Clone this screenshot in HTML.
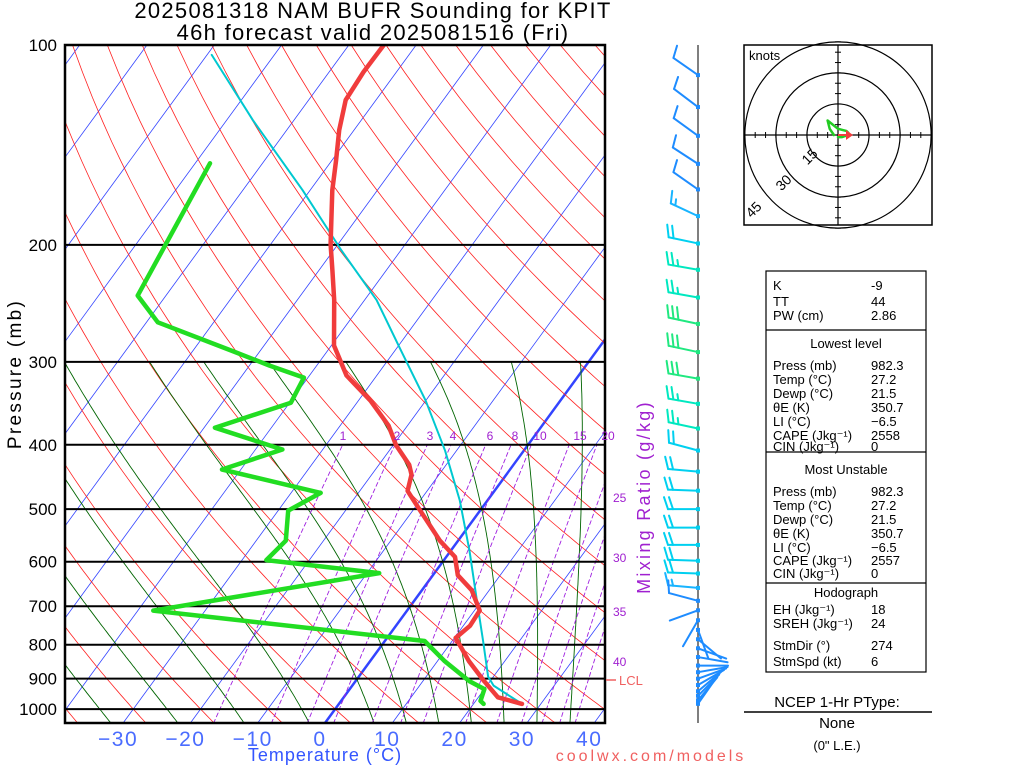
<!DOCTYPE html>
<html><head><meta charset="utf-8"><style>
html,body{margin:0;padding:0;background:#fff;}
svg{display:block;font-family:"Liberation Sans",sans-serif;}
</style></head><body>
<svg id="c" width="1024" height="768" viewBox="0 0 1024 768" xmlns="http://www.w3.org/2000/svg">
<defs><clipPath id="pc"><rect x="65" y="45" width="540" height="678"/></clipPath></defs>
<g id="bg" clip-path="url(#pc)"></g>
<g id="iso"></g>
<g id="prof" clip-path="url(#pc)"></g>
<rect x="65" y="45" width="540" height="678" fill="none" stroke="#000" stroke-width="2.5"/>
<text x="373" y="18" font-size="22" letter-spacing="1.3" text-anchor="middle">2025081318 NAM BUFR Sounding for KPIT</text>
<text x="373" y="40" font-size="22" letter-spacing="1.3" text-anchor="middle">46h forecast valid 2025081516 (Fri)</text>
<text transform="translate(21,374) rotate(-90)" font-size="19" letter-spacing="2.3" text-anchor="middle">Pressure (mb)</text>
<text x="325" y="761" font-size="18" letter-spacing="1" text-anchor="middle" fill="#3355ff">Temperature (°C)</text>
<text x="651" y="761" font-size="16" text-anchor="middle" fill="#f06060" letter-spacing="3">coolwx.com/models</text>
<text transform="translate(650,497) rotate(-90)" font-size="18" letter-spacing="2.3" text-anchor="middle" fill="#a020d0">Mixing Ratio (g/kg)</text>
<g id="mrl" font-size="12" fill="#a020d0"></g>
<line x1="606" y1="680" x2="616" y2="680" stroke="#f06060" stroke-width="1.5"/>
<text x="619" y="685" font-size="13" fill="#f06060">LCL</text>
<g id="xt" font-size="21" letter-spacing="1.5" fill="#4a6cff" text-anchor="middle"></g>
<g id="wind"></g>
<g id="hodo"></g>
<g id="tbl" font-size="13"></g>
<text x="837" y="707" font-size="15" text-anchor="middle">NCEP 1-Hr PType:</text>
<line x1="744" y1="712" x2="932" y2="712" stroke="#000" stroke-width="1.5"/>
<text x="837" y="728" font-size="15" text-anchor="middle">None</text>
<text x="837" y="750" font-size="13" text-anchor="middle">(0" L.E.)</text>
</svg>
<script>
// ---- data ----
const isobarLevels=[100,200,300,400,500,600,700,800,900,1000];
const xTickTemps=[-30,-20,-10,0,10,20,30,40];
const tempP=[100,109.8,121,134.3,149.1,165.5,199.5,218.4,242.2,283.5,314.6,343.3,374.3,400.4,428.7,443.5,469.3,502.5,557.8,590,628.6,662.3,710.8,749.2,781.4,847.3,907.5,960,982.3];
const tempC=[-64.8,-64.9,-64.5,-62.2,-59.4,-56.7,-51.1,-48.0,-44.5,-39.6,-34.5,-28.2,-22.8,-19.6,-15.5,-14.1,-12.9,-8.9,-2.7,1.3,3.7,7.4,10.8,11.0,10.2,14.7,19.1,22.9,27.2];
const dewP=[150.7,238.4,261.6,288.5,303.9,316.8,345.7,376.9,406.5,435.7,472.6,502.5,557.8,596.5,624.1,710.8,789.7,847.3,907.5,933,972,982.3];
const dewC=[-77.8,-74.2,-68.3,-54.3,-47.0,-40.6,-39.8,-48.4,-36.0,-42.8,-25.6,-28.5,-25.6,-26.4,-8.2,-37.7,5.9,11.1,16.9,20.0,20.7,21.5];
const parcelP=[103.5,129.8,165.5,203.9,242.2,288.5,343.3,408.2,485.2,577.7,686.7,789.7,893.3,922,982.3];
const parcelC=[-89.3,-76.1,-61.1,-48.8,-38.2,-29.1,-20.0,-11.7,-4.1,2.8,9.3,14.6,19.2,21.0,27.2];
const mixRatios=[1,2,3,4,6,8,10,15,20,25,30,35,40];
const moistStart=[-35,-25,-15,-5,5,10,15,20,25,30,35];
const windP=[111,124,137,151,165,181,199,218,240,263,290,318,347,378,408,439,469,500,533,566,598,625,657,687,710,735,760,785,810,835,860,880,900,920,940,955,970,982];
const windDir=[305,307,306,303,305,295,282,280,280,282,282,280,280,282,285,275,272,270,270,270,272,272,275,285,250,210,160,130,110,100,90,80,70,60,50,45,40,35];
const windSpd=[10,10,10,10,10,15,20,25,25,30,30,30,25,25,20,20,20,20,20,20,20,20,15,10,5,5,5,5,5,5,5,5,5,5,5,5,5,5];
const hodoU=[-2,-4,-5,0,4,5,5,2,0];
const hodoV=[0,3,7,3,2,1,0,-1,-1];
// ---- helpers ----
const NS="http://www.w3.org/2000/svg";
const Y=p=>45+288.4*Math.log(p/100);
const X=(t,p)=>325+6.73*t+0.73*(723-Y(p));
function mk(tag,parent,attrs){const e=document.createElementNS(NS,tag);for(const k in attrs)e.setAttribute(k,attrs[k]);parent.appendChild(e);return e;}
function poly(parent,pts,stroke,w,dash){return mk('polyline',parent,{points:pts.map(q=>q[0].toFixed(1)+','+q[1].toFixed(1)).join(' '),fill:'none',stroke:stroke,'stroke-width':w,'stroke-dasharray':dash||'none','stroke-linejoin':'round','stroke-linecap':'round'});}
const bg=document.getElementById('bg');
for(let t=-160;t<=40;t+=10){
  const l=mk('line',bg,{x1:X(t,1050),y1:Y(1050),x2:X(t,100),y2:Y(100),stroke:'#3344ff','stroke-width':t===0?2.5:0.8});
  
  
}
for(let th=203.15;th<=483.15;th+=10){
  const pts=[];for(let p=100;p<=1050;p+=10)pts.push([X(th*Math.pow(p/1000,0.286)-273.15,p),Y(p)]);
  const l=poly(bg,pts,'#ff2020',0.8);
  
  
}
function dTdp(T,p){const Tk=T+273.15;const es=6.112*Math.exp(17.67*T/(T+243.5));const rs=0.622*es/(p-es);const Lv=2.5e6,Rd=287,cp=1004;return (Rd*Tk+Lv*rs)/(p*(cp+Lv*Lv*rs*0.622/(Rd*Tk*Tk)));}
moistStart.forEach(t0=>{
  let Tb=t0;for(let p=1000;p<1050;p+=5)Tb+=dTdp(Tb,p)*5;
  let T=Tb;const pts=[[X(T,1050),Y(1050)]];
  for(let p=1050;p>300;p-=5){T-=dTdp(T,p)*5;pts.push([X(T,p-5),Y(p-5)]);}
  const l=poly(bg,pts,'#006400',0.9);
  
  
});
mixRatios.forEach(w=>{
  const pts=[];for(let p=1050;p>=400;p-=10){const e=w*p/(622+w);const a=Math.log(e/6.112);pts.push([X(243.5*a/(17.67-a),p),Y(p)]);}
  const l=poly(bg,pts,'#a020e0',0.9,'4,3');
  
  
});
const mrl=document.getElementById('mrl');
[[1,343],[2,397],[3,430],[4,453],[6,490],[8,515],[10,540],[15,580],[20,608]].forEach(a=>{const t=mk('text',mrl,{x:a[1],y:440,'text-anchor':'middle'});t.textContent=a[0];});
[[25,502],[30,562],[35,616],[40,666]].forEach(a=>{const t=mk('text',mrl,{x:613,y:a[1]});t.textContent=a[0];});
const iso=document.getElementById('iso');
isobarLevels.forEach(p=>{
  const l=mk('line',iso,{x1:65,x2:605,y1:Y(p),y2:Y(p),stroke:'#000','stroke-width':2});
  
  
  const t=mk('text',iso,{x:57,y:Y(p)+6,'text-anchor':'end','font-size':17});
  
  
  t.textContent=p;
});
const xt=document.getElementById('xt');
xTickTemps.forEach(t=>{const e=mk('text',xt,{x:320+6.73*t,y:746});e.textContent=(t<0?'\u2212'+(-t):t);});
const prof=document.getElementById('prof');
let l=poly(prof,parcelP.map((p,i)=>[X(parcelC[i],p),Y(p)]),'#00c8d0',2);


l=poly(prof,dewP.map((p,i)=>[X(dewC[i],p),Y(p)]),'#22dd22',4.5);


l=poly(prof,tempP.map((p,i)=>[X(tempC[i],p),Y(p)]),'#f03c3c',4.5);


const wind=document.getElementById('wind');
mk('line',wind,{x1:698,y1:45,x2:698,y2:723,stroke:'#555','stroke-width':1.5});
function col(s){return s>=30?'#20e880':s>=25?'#00e8c0':s>=20?'#00d0f0':s>=15?'#18b4ff':'#1e8cff';}
windP.forEach((p,i)=>{
  const d=windDir[i]*Math.PI/180,s=windSpd[i],c=col(s);
  const bx=698,by=Y(p);const ux=Math.sin(d),uy=-Math.cos(d);const L=30;
  const g=mk('g',wind,{stroke:c,'stroke-width':2,'stroke-linecap':'round'});
  
  
  mk('line',g,{x1:bx,y1:by,x2:bx+ux*L,y2:by+uy*L});
  mk('rect',g,{x:bx-2,y:by-2,width:4,height:4,fill:c,stroke:'none'});
  const px=-uy,py=ux;let rem=s,k=0;
  while(rem>=10){const a=L-k*5;const sx=bx+ux*a,sy=by+uy*a;mk('line',g,{x1:sx,y1:sy,x2:sx+px*12+ux*4,y2:sy+py*12+uy*4});rem-=10;k++;}
  if(rem>=5&&s>5){const a=L-k*5;const sx=bx+ux*a,sy=by+uy*a;mk('line',g,{x1:sx,y1:sy,x2:sx+px*6+ux*2,y2:sy+py*6+uy*2});}
});
const hodo=document.getElementById('hodo');
mk('rect',hodo,{x:744,y:45,width:188,height:180,fill:'#fff',stroke:'#000','stroke-width':1.5});
const hc=[838,135],sc=2.07;
[15,30,45].forEach(r=>mk('circle',hodo,{cx:hc[0],cy:hc[1],r:r*sc,fill:'none',stroke:'#000','stroke-width':1.2}));
mk('line',hodo,{x1:744,y1:135,x2:932,y2:135,stroke:'#000','stroke-width':1.2});
mk('line',hodo,{x1:838,y1:45,x2:838,y2:225,stroke:'#000','stroke-width':1.2});
for(let k=-9;k<=9;k++){if(!k)continue;const o=k*5*sc;
  mk('line',hodo,{x1:hc[0]+o,y1:132,x2:hc[0]+o,y2:138,stroke:'#000'});
  mk('line',hodo,{x1:835,y1:hc[1]+o,x2:841,y2:hc[1]+o,stroke:'#000'});}
[['15',813,160],['30',787,186],['45',757,213]].forEach(a=>{const t=mk('text',hodo,{x:a[1],y:a[2],'font-size':14,transform:`rotate(-45 ${a[1]} ${a[2]})`,'text-anchor':'middle'});t.textContent=a[0];});
const kt=mk('text',hodo,{x:749,y:60,'font-size':13});kt.textContent='knots';
l=poly(hodo,hodoU.map((u,i)=>[hc[0]+u*sc,hc[1]-hodoV[i]*sc]),'#22cc22',2.5);


mk('line',hodo,{x1:838,y1:135,x2:850,y2:135,stroke:'#f03c3c','stroke-width':2});
mk('polygon',hodo,{points:'846,130 853,135 846,140',fill:'#f03c3c'});
const tbl=document.getElementById('tbl');
mk('rect',tbl,{x:766,y:271,width:160,height:401,fill:'none',stroke:'#000','stroke-width':1.2});
[330,452,583].forEach(y=>mk('line',tbl,{x1:766,x2:926,y1:y,y2:y,stroke:'#000','stroke-width':1.2}));
const rows=[['K','-9',290],['TT','44',306],['PW (cm)','2.86',320],
['Press (mb)','982.3',370],['Temp (°C)','27.2',384],['Dewp (°C)','21.5',398],['θE (K)','350.7',412],['LI (°C)','\u22126.5',426],['CAPE (Jkg⁻¹)','2558',440],['CIN (Jkg⁻¹)','0',451],
['Press (mb)','982.3',496],['Temp (°C)','27.2',510],['Dewp (°C)','21.5',524],['θE (K)','350.7',538],['LI (°C)','\u22126.5',552],['CAPE (Jkg⁻¹)','2557',565],['CIN (Jkg⁻¹)','0',578],
['EH (Jkg⁻¹)','18',614],['SREH (Jkg⁻¹)','24',628],['StmDir (°)','274',650],['StmSpd (kt)','6',666]];
rows.forEach(r=>{const a=mk('text',tbl,{x:773,y:r[2]});a.textContent=r[0];const b=mk('text',tbl,{x:871,y:r[2]});b.textContent=r[1];});
[['Lowest level',348],['Most Unstable',474],['Hodograph',597]].forEach(h=>{const t=mk('text',tbl,{x:846,y:h[1],'text-anchor':'middle'});t.textContent=h[0];});
</script>
</body></html>
